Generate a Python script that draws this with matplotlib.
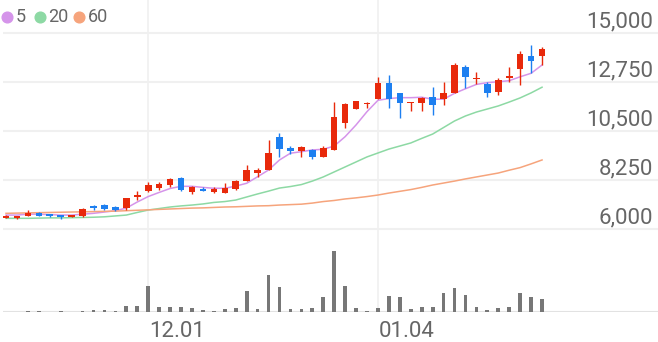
import matplotlib.pyplot as plt
from matplotlib.lines import Line2D

plt.rcParams['font.family'] = ['Roboto', 'DejaVu Sans']

# daily candles, oldest first
opens = [6520, 6490, 6610, 6730, 6680, 6630, 6560, 6600, 7060, 7120,
         7020, 6950, 7470, 7740, 7870, 8010, 8360, 7700, 7840, 7710,
         7670, 7840, 8200, 8560, 8710, 10240, 9720, 9600, 9630, 9320,
         9630, 10850, 11520, 11730, 11980, 12720, 12230, 11770, 11770, 12050,
         11960, 12230, 13450, 12890, 12640, 12280, 12950, 13330, 13930, 13930]
highs = [6630, 6600, 6870, 6770, 6690, 6640, 6620, 6950, 7100, 7150,
         7060, 7440, 7740, 8160, 8160, 8340, 8370, 7970, 7940, 7910,
         8100, 8250, 8930, 8790, 10090, 10390, 9810, 9810, 9660, 9810,
         11850, 11800, 11880, 11810, 12960, 13070, 12250, 11830, 12080, 12530,
         12760, 13610, 13510, 13220, 12760, 12950, 13450, 14170, 14450, 14370]
lows = [6490, 6450, 6600, 6580, 6560, 6470, 6550, 6540, 6890, 6890,
        6830, 6860, 7330, 7710, 7790, 7940, 7760, 7610, 7730, 7640,
        7640, 7790, 8190, 8400, 8700, 9320, 9440, 9320, 9210, 9310,
        9620, 10620, 11520, 11560, 11970, 11540, 11110, 11420, 11420, 11230,
        11690, 12230, 12470, 12640, 12080, 12150, 12760, 12610, 13150, 13530]
closes = [6610, 6600, 6720, 6610, 6580, 6540, 6610, 6920, 6950, 6920,
          6860, 7410, 7580, 8020, 8070, 8310, 7790, 7910, 7760, 7820,
          7900, 8220, 8710, 8700, 9500, 9660, 9600, 9750, 9320, 9720,
          11130, 11740, 11860, 11800, 12720, 11970, 11770, 11830, 12030, 11690,
          12260, 13530, 12970, 12950, 12230, 12840, 13040, 14040, 13730, 14270]
volumes = [1, 1, 4, 2, 1, 3, 1, 5, 7, 6,
           4, 20, 20, 89, 16, 16, 19, 14, 6, 5,
           10, 13, 73, 12, 127, 86, 12, 12, 13, 53,
           212, 92, 13, 4, 13, 55, 53, 11, 16, 17,
           66, 84, 58, 17, 8, 13, 19, 66, 52, 46]

ma5 = [6640, 6640, 6680, 6680, 6660, 6640, 6640, 6680, 6720, 6780,
       6840, 6960, 7240, 7490, 7680, 7860, 7960, 7960, 7910, 7870,
       7870, 7970, 8100, 8400, 8710, 9170, 9480, 9550, 9630, 9660,
       9810, 10240, 10780, 11390, 11910, 11990, 12030, 12030, 12050, 11960,
       11960, 12230, 12440, 12640, 12720, 12760, 12810, 12990, 13150, 13530]
ma20 = [6490, 6490, 6490, 6500, 6510, 6510, 6520, 6530, 6540, 6560,
        6600, 6640, 6760, 6870, 6940, 7010, 7060, 7100, 7150, 7220,
        7260, 7330, 7470, 7610, 7740, 7880, 7950, 8040, 8200, 8390,
        8620, 8850, 9080, 9310, 9490, 9670, 9810, 9950, 10160, 10360,
        10660, 10960, 11190, 11370, 11510, 11650, 11830, 12020, 12250, 12510]
ma60 = [6720, 6730, 6740, 6750, 6760, 6770, 6780, 6790, 6800, 6810,
        6820, 6840, 6860, 6880, 6900, 6920, 6940, 6960, 6970, 6990,
        7010, 7020, 7040, 7060, 7070, 7100, 7120, 7140, 7190, 7260,
        7310, 7380, 7430, 7490, 7560, 7650, 7730, 7810, 7910, 8020,
        8110, 8200, 8300, 8390, 8480, 8570, 8700, 8820, 8990, 9170]

price_ticks = [6000, 8250, 10500, 12750, 15000]
date_ticks = [13, 34]
date_labels = ['12.01', '01.04']

ma_names = ['5', '20', '60']
ma_colors = ['#d594ea', '#8dd9a4', '#f6a47c']
up_color = '#e8290b'
down_color = '#1d7ff0'
grid_color = '#f0f0f0'
text_color = '#666666'

W, H = 658, 342
fig = plt.figure(figsize=(W / 100, H / 100), dpi=100)
xlim = (-0.55, 59.6)

ax = fig.add_axes([0, 1 - 240 / H, 1, 240 / H])
vax = fig.add_axes([0, 30 / H, 1, 72 / H])
for a in (ax, vax):
    a.set_xlim(*xlim)
    a.set_axis_off()
ax.set_ylim(5495, 16515)
vax.set_ylim(0, 250)

x0 = xlim[0] + 3 / 10.94
ax.hlines(price_ticks, x0, xlim[1], color=grid_color, lw=1.5, zorder=0)
vax.hlines(0, x0, xlim[1], color='#e2e2e2', lw=1.5, zorder=0)
for d in date_ticks:
    ax.axvline(d, color=grid_color, lw=1.2, zorder=0)
    vax.axvline(d, color=grid_color, lw=1.2, zorder=0)

for ma, c in zip([ma5, ma20, ma60], ma_colors):
    ax.plot(range(len(ma)), ma, color=c, lw=1.1, zorder=2)

for i in range(len(closes)):
    o, h, l, c = opens[i], highs[i], lows[i], closes[i]
    col = up_color if c >= o else down_color
    ax.vlines(i, l, h, color=col, lw=1.0, zorder=3)
    body = max(abs(c - o), 60)
    ax.bar(i, body, bottom=min(o, c), width=0.6, color=col, zorder=4)

vax.bar(range(len(volumes)), volumes, width=0.34, color='#777777', zorder=2)

for v in price_ticks:
    ax.annotate(f'{v:,}', xy=(1, v), xycoords=('axes fraction', 'data'),
                xytext=(-5, 6), textcoords='offset pixels', ha='right',
                va='baseline', fontsize=16, color=text_color)

for d, lab in zip(date_ticks, date_labels):
    vax.annotate(lab, xy=(d, 0), xycoords='data', xytext=(1, -25),
                 textcoords='offset pixels', ha='left', va='baseline',
                 fontsize=16, color=text_color)

# legend row at top-left
lx = [7, 39.5, 79]
for x, name, c in zip(lx, ma_names, ma_colors):
    fig.add_artist(Line2D([x / W], [1 - 16.7 / H], marker='o', ls='',
                          markersize=7.7, color=c, transform=fig.transFigure))
    fig.text((x + 8.5) / W, 1 - 22.5 / H, name, fontsize=13,
             color=text_color, ha='left', va='baseline')

fig.savefig('out.png', dpi=100)
